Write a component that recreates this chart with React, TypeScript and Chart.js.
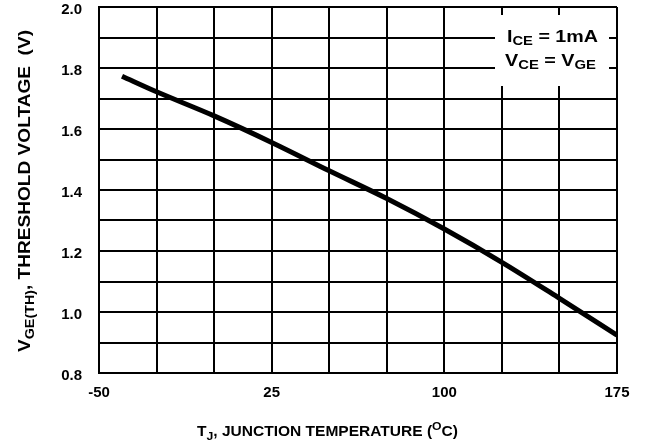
import React, { useEffect, useRef } from 'react';
import { Chart, registerables } from 'chart.js';

Chart.register(...registerables);

// ---- data ----
const temperatures = [-40, -25, 0, 25, 50, 75, 100, 125, 150, 175];
const thresholdVoltage = [1.773, 1.722, 1.643, 1.556, 1.463, 1.372, 1.272, 1.163, 1.045, 0.924];
const xTickLabels = [-50, 25, 100, 175];
const yTickLabels = [0.8, 1.0, 1.2, 1.4, 1.6, 1.8, 2.0];
const xTitle = [{ t: 'T' }, { t: 'J', k: 'sub' }, { t: ', JUNCTION TEMPERATURE (' }, { t: 'O', k: 'sup' }, { t: 'C)' }];
const yTitle = [{ t: 'V' }, { t: 'GE(TH)', k: 'sub' }, { t: ', THRESHOLD VOLTAGE  (V)' }];
const legendLine1 = [{ t: 'I' }, { t: 'CE', k: 'sub' }, { t: ' = 1mA' }];
const legendLine2 = [{ t: 'V' }, { t: 'CE', k: 'sub' }, { t: ' = V' }, { t: 'GE', k: 'sub' }];

const FAMILY = '"Liberation Sans", Arial, Helvetica, sans-serif';

type Seg = { t: string; k?: string };

// draws rich text starting at x0 and stretched horizontally to fill `width`
function drawRich(ctx: CanvasRenderingContext2D, segs: Seg[], x0: number, y: number, width: number, size: number, subSize: number, subDy: number) {
  const fontFor = (s: Seg) => `bold ${s.k ? subSize : size}px ${FAMILY}`;
  let total = 0;
  const widths = segs.map((s) => {
    ctx.font = fontFor(s);
    const w = ctx.measureText(s.t).width;
    total += w;
    return w;
  });
  const sx = width / total;
  ctx.save();
  ctx.translate(x0, y);
  ctx.scale(sx, 1);
  ctx.textAlign = 'left';
  ctx.textBaseline = 'alphabetic';
  ctx.fillStyle = '#000';
  let cx = 0;
  segs.forEach((s, i) => {
    ctx.font = fontFor(s);
    const dy = s.k === 'sub' ? subDy : s.k === 'sup' ? -size * 0.42 : 0;
    ctx.fillText(s.t, cx, dy);
    cx += widths[i];
  });
  ctx.restore();
}

const annotPlugin = {
  id: 'annot',
  afterDraw(chart: any) {
    const ctx: CanvasRenderingContext2D = chart.ctx;
    ctx.save();
    // legend box covering grid
    ctx.fillStyle = '#fff';
    ctx.fillRect(495, 15, 114, 71);
    drawRich(ctx, legendLine1, 507, 41.5, 91, 16, 12, 3.5);
    drawRich(ctx, legendLine2, 505, 65.5, 91, 16, 12, 3.5);
    // x title
    drawRich(ctx, xTitle, 197, 436, 261, 14, 11, 3.5);
    // y title
    ctx.save();
    ctx.translate(30, 352);
    ctx.rotate(-Math.PI / 2);
    drawRich(ctx, yTitle, 0, 0, 322, 16, 12, 3.5);
    ctx.restore();
    ctx.restore();
  },
};

export default function App() {
  const ref = useRef<HTMLCanvasElement | null>(null);
  useEffect(() => {
    if (!ref.current) return;
    const chart = new Chart(ref.current, {
      type: 'line',
      data: {
        datasets: [
          {
            data: temperatures.map((t, i) => ({ x: t, y: thresholdVoltage[i] })),
            borderColor: '#000',
            borderWidth: 5,
            pointRadius: 0,
            cubicInterpolationMode: 'monotone',
            borderCapStyle: 'butt',
            fill: false,
          },
        ],
      },
      options: {
        responsive: false,
        animation: false,
        events: [],
        layout: { padding: { left: 0, right: 30, top: 7, bottom: 0 } },
        plugins: { legend: { display: false }, tooltip: { enabled: false }, title: { display: false } },
        scales: {
          x: {
            type: 'linear',
            min: -50,
            max: 175,
            afterFit: (s: any) => {
              s.height = 73;
              s.paddingLeft = 0;
              s.paddingRight = 0;
            },
            grid: { color: '#000', lineWidth: 2, drawTicks: false },
            border: { color: '#000', width: 2 },
            ticks: {
              stepSize: 25,
              autoSkip: false,
              maxRotation: 0,
              padding: 11,
              color: '#000',
              font: { family: FAMILY, size: 15, weight: 'bold' },
              callback: (v: any) => (xTickLabels.includes(Number(v)) ? String(v) : ''),
            },
          },
          y: {
            min: 0.8,
            max: 2.0,
            afterFit: (s: any) => {
              s.width = 99;
              s.paddingTop = 0;
              s.paddingBottom = 0;
            },
            grid: { color: '#000', lineWidth: 2, drawTicks: false },
            border: { color: '#000', width: 2 },
            ticks: {
              stepSize: 0.1,
              autoSkip: false,
              padding: 17,
              labelOffset: 3,
              color: '#000',
              font: { family: FAMILY, size: 15, weight: 'bold' },
              callback: (v: any) => {
                const n = Number(v);
                return yTickLabels.some((l) => Math.abs(l - n) < 1e-6) ? n.toFixed(1) : '';
              },
            },
          },
        },
      },
      plugins: [annotPlugin],
    } as any);
    return () => chart.destroy();
  }, []);
  return (
    <div style={{ position: 'absolute', left: 0, top: 0, width: 647, height: 446, background: '#fff' }}>
      <canvas ref={ref} width={647} height={446} style={{ display: 'block' }} />
    </div>
  );
}
